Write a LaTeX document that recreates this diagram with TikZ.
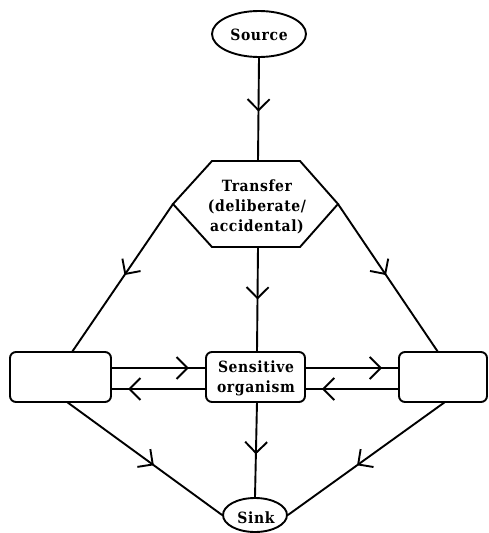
\documentclass[tikz,border=0pt]{standalone}
\usepackage{fontspec}
\setmainfont{DejaVu Serif Condensed}[LetterSpace=4]
\usetikzlibrary{arrows.meta,decorations.markings,shapes.geometric}
\tikzset{
  conn/.style={line width=1.9pt},
  midarrow/.style={postaction={decorate},decoration={markings,
     mark=at position #1 with {\arrow[line width=1.9pt]{Straight Barb[length=11pt,width=22pt]}}}},
  lbl/.style={font=\bfseries\fontsize{15.5}{20}\selectfont, align=center, inner sep=0pt},
  box/.style={draw, line width=1.9pt, rounded corners=6pt},
}
\begin{document}
\begin{tikzpicture}[x=1pt,y=-1pt]
\useasboundingbox (0,0) rectangle (488,533);
% Source
\node[draw, line width=1.9pt, ellipse, minimum width=94pt, minimum height=46pt, inner sep=0pt] (source) at (259,34) {};
\node[lbl] (sourcetxt) at (259,35) {Source};
% Hexagon
\coordinate (ht) at (258,161);
\coordinate (hl) at (173,204);
\coordinate (hr) at (338,204);
\coordinate (hb) at (258,247);
\draw[conn, line join=miter] (212,161) -- (300,161) -- (hr) -- (300,247) -- (212,247) -- (hl) -- cycle;
\node[lbl] (transfer) at (257,207) {Transfer\\(deliberate/\\accidental)};
% Boxes
\draw[box] (10,352) rectangle (111,402);
\draw[box] (206,352) rectangle (305,402);
\draw[box] (399,352) rectangle (487,402);
\coordinate (ltop) at (72,352);
\coordinate (lbot) at (67,402);
\coordinate (rtop) at (438,352);
\coordinate (rbot) at (445,402);
\coordinate (stop) at (257,352);
\coordinate (sbot) at (257,402);
\coordinate (lr1) at (111,368); \coordinate (sl1) at (206,368);
\coordinate (lr2) at (111,389); \coordinate (sl2) at (206,389);
\coordinate (sr1) at (305,368); \coordinate (rl1) at (399,368);
\coordinate (sr2) at (305,389); \coordinate (rl2) at (399,389);
\node[lbl] (sens) at (256,378) {Sensitive\\organism};
% Sink
\node[draw, line width=1.9pt, ellipse, minimum width=64pt, minimum height=34pt, inner sep=0pt] (sink) at (255,515) {};
\node[lbl] (sinktxt) at (256,518) {Sink};
% Connectors
\draw[conn, midarrow=0.52] (source.south) -- (ht);
\draw[conn, midarrow=0.48] (hl) -- (ltop);
\draw[conn, midarrow=0.48] (hr) -- (rtop);
\draw[conn, midarrow=0.5] (hb) -- (stop);
\draw[conn, midarrow=0.82] (lr1) -- (sl1);
\draw[conn, midarrow=0.82] (sl2) -- (lr2);
\draw[conn, midarrow=0.82] (sr1) -- (rl1);
\draw[conn, midarrow=0.82] (rl2) -- (sr2);
\draw[conn, midarrow=0.55] (sbot) -- (sink.north);
\draw[conn, midarrow=0.56] (lbot) -- (sink.west);
\draw[conn, midarrow=0.56] (rbot) -- (sink.east);
\end{tikzpicture}
\end{document}
